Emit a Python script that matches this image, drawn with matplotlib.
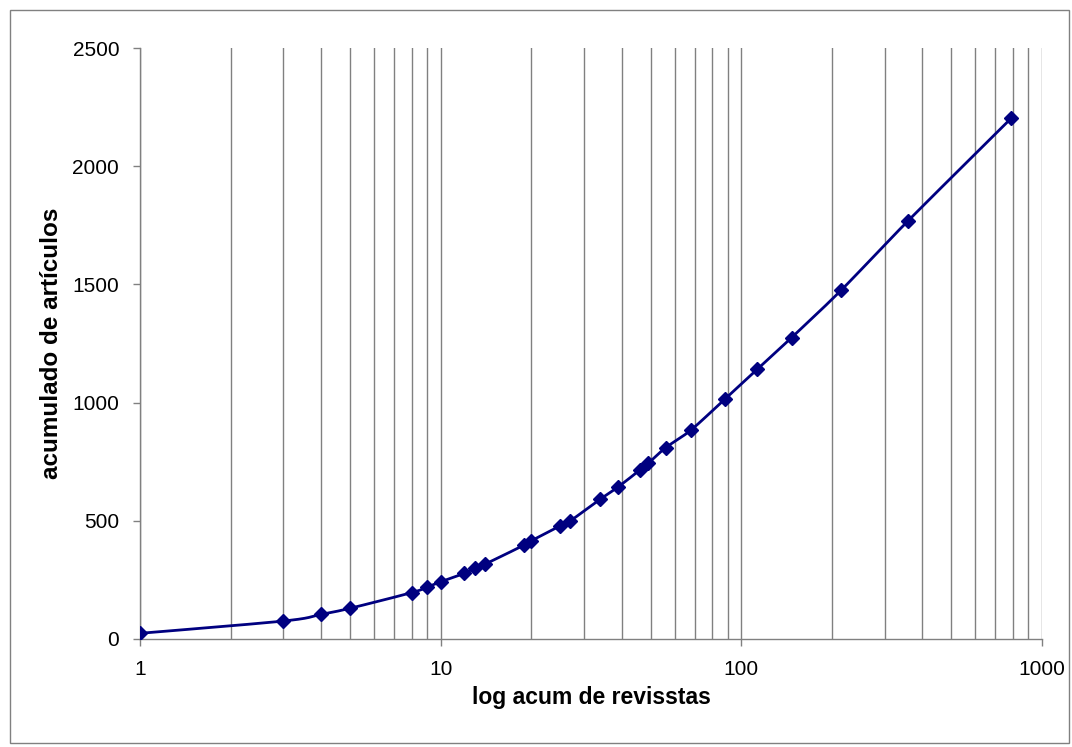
import numpy as np
import matplotlib
matplotlib.use("Agg")
import matplotlib.pyplot as plt
from matplotlib.ticker import LogLocator, FixedLocator, NullFormatter, FixedFormatter

plt.rcParams['font.family'] = ['Liberation Sans', 'DejaVu Sans']

# Data
revistas = [1, 3, 4, 5, 8, 9, 10, 12, 13, 14, 19, 20, 25, 27, 34, 39, 46, 49,
            56, 68, 88, 113, 147, 215, 358, 790]
articulos = [24, 76, 104, 130, 196, 219, 242, 278, 302, 316, 398, 415, 479, 500,
             592, 644, 715, 743, 809, 884, 1014, 1141, 1275, 1476, 1768, 2203]

x_label = "log acum de revisstas"
y_label = "acumulado de artículos"
y_ticks = [0, 500, 1000, 1500, 2000, 2500]
x_ticks = [1, 10, 100, 1000]
x_tick_labels = ["1", "10", "100", "1000"]


def smooth_curve(xs, ys, n=30):
    """Excel-like smoothed line (Catmull-Rom style Bezier) in log-x display space."""
    lx = np.log10(np.asarray(xs, float))
    ly = np.asarray(ys, float)
    px, py = [], []
    m = len(lx)
    for i in range(m - 1):
        p0 = (lx[max(i - 1, 0)], ly[max(i - 1, 0)])
        p1 = (lx[i], ly[i])
        p2 = (lx[i + 1], ly[i + 1])
        p3 = (lx[min(i + 2, m - 1)], ly[min(i + 2, m - 1)])
        c1 = (p1[0] + (p2[0] - p0[0]) / 6, p1[1] + (p2[1] - p0[1]) / 6)
        c2 = (p2[0] - (p3[0] - p1[0]) / 6, p2[1] - (p3[1] - p1[1]) / 6)
        t = np.linspace(0, 1, n)
        bx = ((1 - t) ** 3 * p1[0] + 3 * (1 - t) ** 2 * t * c1[0]
              + 3 * (1 - t) * t ** 2 * c2[0] + t ** 3 * p2[0])
        by = ((1 - t) ** 3 * p1[1] + 3 * (1 - t) ** 2 * t * c1[1]
              + 3 * (1 - t) * t ** 2 * c2[1] + t ** 3 * p2[1])
        px.extend(bx)
        py.extend(by)
    return 10 ** np.array(px), np.array(py)


fig = plt.figure(figsize=(10.72, 7.47), dpi=100)
ax = fig.add_axes([0.1306, 0.1446, 0.972 - 0.1306, 0.9357 - 0.1446])

sx, sy = smooth_curve(revistas, articulos)
ax.plot(sx, sy, color='#000080', lw=2.0, zorder=3)
ax.plot(revistas, articulos, linestyle='none', marker='D', markersize=7.5,
        color='#000080', zorder=4)

ax.set_xscale('log')
ax.set_xlim(1, 1000)
ax.set_ylim(0, 2500)

ax.xaxis.set_major_locator(FixedLocator(x_ticks))
ax.xaxis.set_major_formatter(FixedFormatter(x_tick_labels))
ax.xaxis.set_minor_locator(LogLocator(base=10, subs=np.arange(2, 10)))
ax.xaxis.set_minor_formatter(NullFormatter())
ax.set_yticks(y_ticks)

ax.grid(True, which='both', axis='x', color='#808080', lw=1.0)
ax.set_axisbelow(True)

for s in ['top', 'right']:
    ax.spines[s].set_visible(False)
for s in ['left', 'bottom']:
    ax.spines[s].set_color('#808080')
    ax.spines[s].set_linewidth(1.0)

ax.tick_params(axis='both', which='major', labelsize=15, colors='#808080',
               labelcolor='black', length=5, width=1)
ax.tick_params(axis='x', which='minor', length=0)
ax.tick_params(axis='x', which='major', pad=10)
ax.tick_params(axis='y', which='major', pad=10)

ax.set_xlabel(x_label, fontsize=16.5, fontweight='bold', labelpad=5)
ax.set_ylabel(y_label, fontsize=17.5, fontweight='bold', labelpad=7)

# outer chart border
fig.patches.append(plt.Rectangle((0.009, 0.005), 0.988, 0.982, transform=fig.transFigure,
                                 fill=False, edgecolor='#808080', lw=1.0))

fig.savefig('out.png', dpi=100)
